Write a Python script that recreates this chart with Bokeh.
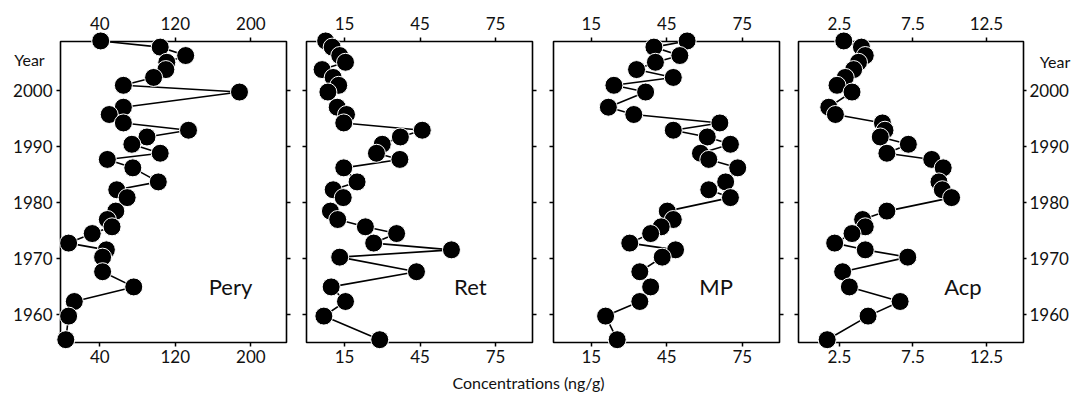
from bokeh.plotting import figure
from bokeh.models import Range1d, LinearAxis, FixedTicker, Label, CustomJSTickFormatter
from bokeh.core.properties import value
from bokeh.layouts import row, column
from bokeh.embed import file_html
from bokeh.resources import INLINE

# ---------------- data ----------------
years = [2008.8, 2007.7, 2006.2, 2005.0, 2003.7, 2002.3, 2000.9, 1999.7,
         1997.0, 1995.7, 1994.2, 1992.9, 1991.7, 1990.4, 1988.8, 1987.7,
         1986.2, 1983.7, 1982.3, 1980.9, 1978.5, 1977.0, 1975.7, 1974.5,
         1972.8, 1971.6, 1970.3, 1967.7, 1965.0, 1962.4, 1959.8, 1955.6]

pery = [41, 104, 131, 111, 110, 97, 65, 188, 65, 50, 65, 134, 90, 74, 104, 48,
        75, 102, 58, 69, 57, 48, 53, 32, 7, 47, 43, 43, 76, 13, 7, 4]

ret = [7.5, 10.1, 13.1, 15.4, 6.1, 10.5, 12.7, 8.4, 12.1, 15.8, 14.7, 45.9,
       37.2, 30.0, 27.7, 37.0, 14.7, 20.0, 10.5, 14.5, 9.4, 12.3, 23.3, 35.7,
       26.6, 57.5, 13.1, 43.6, 9.7, 15.4, 6.8, 29.0]

mp = [53.1, 39.9, 50.2, 40.5, 33.0, 47.6, 24.0, 36.6, 21.8, 31.9, 66.1, 47.6,
      61.1, 70.3, 58.4, 61.7, 73.2, 68.4, 61.7, 70.3, 45.2, 47.6, 42.8, 38.6,
      30.3, 48.5, 43.2, 34.3, 38.6, 34.3, 20.7, 25.3]

acp = [2.8, 4.0, 4.26, 3.8, 3.47, 2.9, 2.34, 3.36, 1.78, 2.23, 5.43, 5.6,
       5.28, 7.19, 5.73, 8.78, 9.56, 9.27, 9.5, 10.13, 5.73, 4.08, 4.26, 3.36,
       2.18, 4.26, 7.15, 2.72, 3.18, 6.63, 4.45, 1.67]

panel_names = ["Pery", "Ret", "MP", "Acp"]
x_ticks = [[40, 120, 200], [15, 45, 75], [15, 45, 75], [2.5, 7.5, 12.5]]
y_ticks = [1960, 1970, 1980, 1990, 2000]
y_label = "Year"
x_title = "Concentrations (ng/g)"

series = [pery, ret, mp, acp]

# ---------------- layout / style ----------------
FONT = "Lato"
TXT = "#111111"
specs = [
    dict(xr=(-1.6, 237.8), w=296, bl=60, br=10, name_xy=(178.5, 1965.0)),
    dict(xr=(-0.1, 89.7), w=247, bl=10, br=11, name_xy=(65.0, 1965.0)),
    dict(xr=(0.0, 89.8), w=246, bl=10, br=10, name_xy=(64.6, 1965.0)),
    dict(xr=(-0.28, 15.02), w=282, bl=9, br=47, name_xy=(10.9, 1965.0)),
]
ROW_H = 369


def style_axis(ax):
    ax.axis_line_color = None
    ax.major_tick_line_color = "black"
    ax.major_tick_line_width = 1.5
    ax.major_tick_in = 0
    ax.major_tick_out = 4
    ax.minor_tick_line_color = None
    ax.major_label_text_font = FONT
    ax.major_label_text_color = TXT


panels = []
for i, s in enumerate(specs):
    p = figure(width=s["w"], height=ROW_H,
               x_range=Range1d(*s["xr"]), y_range=Range1d(1955.1, 2008.7),
               output_backend="svg", toolbar_location=None,
               x_axis_location=None, y_axis_location=None,
               min_border_left=s["bl"], min_border_right=s["br"],
               min_border_top=41, min_border_bottom=27,
               outline_line_color="black", outline_line_width=1.6,
               background_fill_color="white", border_fill_color="white")
    p.grid.visible = False

    for loc in ["above", "below"]:
        ax = LinearAxis(ticker=FixedTicker(ticks=x_ticks[i]))
        style_axis(ax)
        ax.major_label_text_font_size = "17px"
        ax.major_label_standoff = 8 if loc == "above" else 3
        p.add_layout(ax, loc)

    for loc in ["left", "right"]:
        ax = LinearAxis(ticker=FixedTicker(ticks=y_ticks))
        style_axis(ax)
        ax.major_label_text_font_size = "17px"
        labelled = (i == 0 and loc == "left") or (i == 3 and loc == "right")
        if not labelled:
            ax.formatter = CustomJSTickFormatter(code="return ''")
            ax.major_label_standoff = 0
        else:
            ax.major_label_standoff = 4 if loc == "left" else 3
            if loc == "right":
                ax.major_tick_out = 3
        p.add_layout(ax, loc)

    p.line(series[i], years, line_color="black", line_width=1.6, level="annotation")
    p.scatter(series[i], years, size=18, fill_color="black", line_color="white",
              line_width=1.0, level="overlay")

    nx, ny = s["name_xy"]
    p.add_layout(Label(x=nx, y=ny, text=panel_names[i], text_font=FONT,
                       text_font_size="22px", text_color=TXT,
                       text_align="center", text_baseline="middle"))
    panels.append(p)

# "Year" labels (as overlay text glyphs so they are not clipped to the frame)
panels[0].text(x=[-34.5], y=[2005.5], text=[y_label], text_font=value(FONT),
               text_font_size="16px", text_color=TXT, text_align="center",
               text_baseline="middle", level="overlay")
panels[3].text(x=[18.2], y=[2005.2], text=[y_label], text_font=value(FONT),
               text_font_size="16px", text_color=TXT, text_align="right",
               text_baseline="middle", level="overlay")

# bottom title strip
lab = figure(width=1071, height=25, x_range=Range1d(0, 1071), y_range=Range1d(0, 25),
             output_backend="svg", toolbar_location=None,
             x_axis_location=None, y_axis_location=None,
             min_border_left=0, min_border_right=0, min_border_top=0, min_border_bottom=0,
             outline_line_color=None, background_fill_color="white", border_fill_color="white")
lab.grid.visible = False
lab.add_layout(Label(x=528, y=12, text=x_title, text_font=FONT, text_font_size="16px",
                     text_color=TXT, text_align="center", text_baseline="middle"))

layout = column(row(*panels, spacing=0), lab, spacing=0)

with open("out.html", "w") as f:
    f.write(file_html(layout, INLINE))
